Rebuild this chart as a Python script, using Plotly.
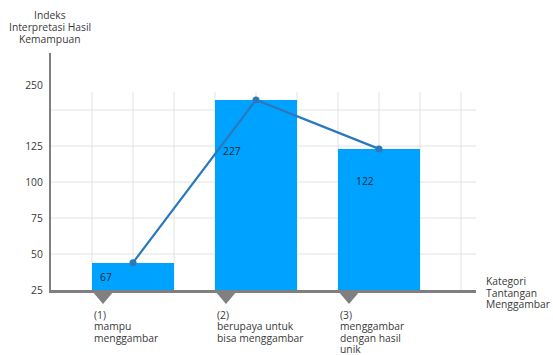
import plotly.graph_objects as go

# ---- data ----
categories = ["(1)|mampu|menggambar",
              "(2)|berupaya untuk|bisa menggambar",
              "(3)|menggambar|dengan hasil|unik"]
bar_heights = [44, 157, 123]          # heights as drawn on the (broken) axis
value_labels = ["67", "227", "122"]   # printed values
tick_vals = [25, 50, 75, 100, 125, 167]
tick_text = ["25", "50", "75", "100", "125", "250"]
grid_y = [50, 75, 100, 125, 150]
y_title = ["Indeks", "Interpretasi Hasil", "Kemampuan"]
x_title = ["Kategori", "Tantangan", "Menggambar"]

FONT = "Open Sans"
FS = 10.3
BAR = "#00a2ff"
LINE = "#2b79bd"
AXIS = "#7f7f7f"
TXT = "#3a3a3a"

W, H = 553, 355
L, R, T, B = 51, 77, 53, 65
pw, ph = W - L - R, H - T - B

centers = [2 + 3 * i for i in range(len(categories))]
x_max = 425 / 41
y_min, y_max = 25, 25 + 237 / 1.44

fig = go.Figure()

fig.add_trace(go.Bar(x=centers, y=bar_heights, width=2, marker=dict(color=BAR, line=dict(width=0)),
                     hoverinfo="skip", showlegend=False))
fig.add_trace(go.Scatter(x=centers, y=bar_heights, mode="lines+markers",
                         line=dict(color=LINE, width=2.2), marker=dict(color=LINE, size=7),
                         showlegend=False, cliponaxis=False))

shapes = []
for gy in grid_y:
    shapes.append(dict(type="line", xref="x", yref="y", x0=0, x1=x_max, y0=gy, y1=gy,
                       line=dict(color="#e2e2e2", width=1), layer="below"))
for gx in range(1, 11):
    shapes.append(dict(type="line", xref="x", yref="y", x0=gx, x1=gx, y0=y_min, y1=162.5,
                       line=dict(color="#e2e2e2", width=1), layer="below"))

# category pointer triangles below the axis
def py(px):
    return 1 - (px - T) / ph

hw = 11 / 41
for c in centers:
    tx = c - 1 + hw
    path = f"M {tx - hw} {py(291)} L {tx + hw} {py(291)} L {tx} {py(304)} Z"
    shapes.append(dict(type="path", xref="x", yref="paper", path=path,
                       fillcolor="#808080", line=dict(width=0), layer="above"))

ann = []
lab_pos = [(1.34, 34), (4.41, 121.5), (7.66, 100.7)]
for (lx, ly), t in zip(lab_pos, value_labels):
    ann.append(dict(x=lx, y=ly, xref="x", yref="y", text=t, showarrow=False,
                    font=dict(family=FONT, size=FS, color="#1b2a3a")))
for c, cat in zip(centers, categories):
    for j, line in enumerate(cat.split("|")):
        ann.append(dict(x=c - 1, y=py(315 + 11.4 * j), xref="x", yref="paper",
                        text=line, showarrow=False, xanchor="left", yanchor="middle",
                        font=dict(family=FONT, size=FS, color=TXT)))
for j, line in enumerate(y_title):
    ann.append(dict(x=(50 - L) / pw, y=py(15 + 12 * j), xref="paper", yref="paper", text=line,
                    showarrow=False, xanchor="center", yanchor="middle",
                    font=dict(family=FONT, size=FS, color=TXT)))
for j, line in enumerate(x_title):
    ann.append(dict(x=(484 - L) / pw, y=py(281 + 11.5 * j), xref="paper", yref="paper", text=line,
                    showarrow=False, xanchor="left", yanchor="middle",
                    font=dict(family=FONT, size=FS, color=TXT)))

fig.update_layout(
    width=W, height=H, margin=dict(l=L, r=R, t=T, b=B, pad=0),
    paper_bgcolor="white", plot_bgcolor="white",
    shapes=shapes, annotations=ann, bargap=0,
    xaxis=dict(range=[0, x_max], showgrid=False, zeroline=False, showticklabels=False,
               showline=True, linecolor=AXIS, linewidth=2.5, ticks="", fixedrange=True),
    yaxis=dict(range=[y_min, y_max], showgrid=False, zeroline=False, tickvals=tick_vals,
               ticktext=tick_text, showline=True, linecolor=AXIS, linewidth=2.2, ticks="",
               ticklabelstandoff=4, tickfont=dict(family=FONT, size=FS, color=TXT), fixedrange=True),
    font=dict(family=FONT),
)

fig.write_html("out.html", config=dict(displayModeBar=False))
